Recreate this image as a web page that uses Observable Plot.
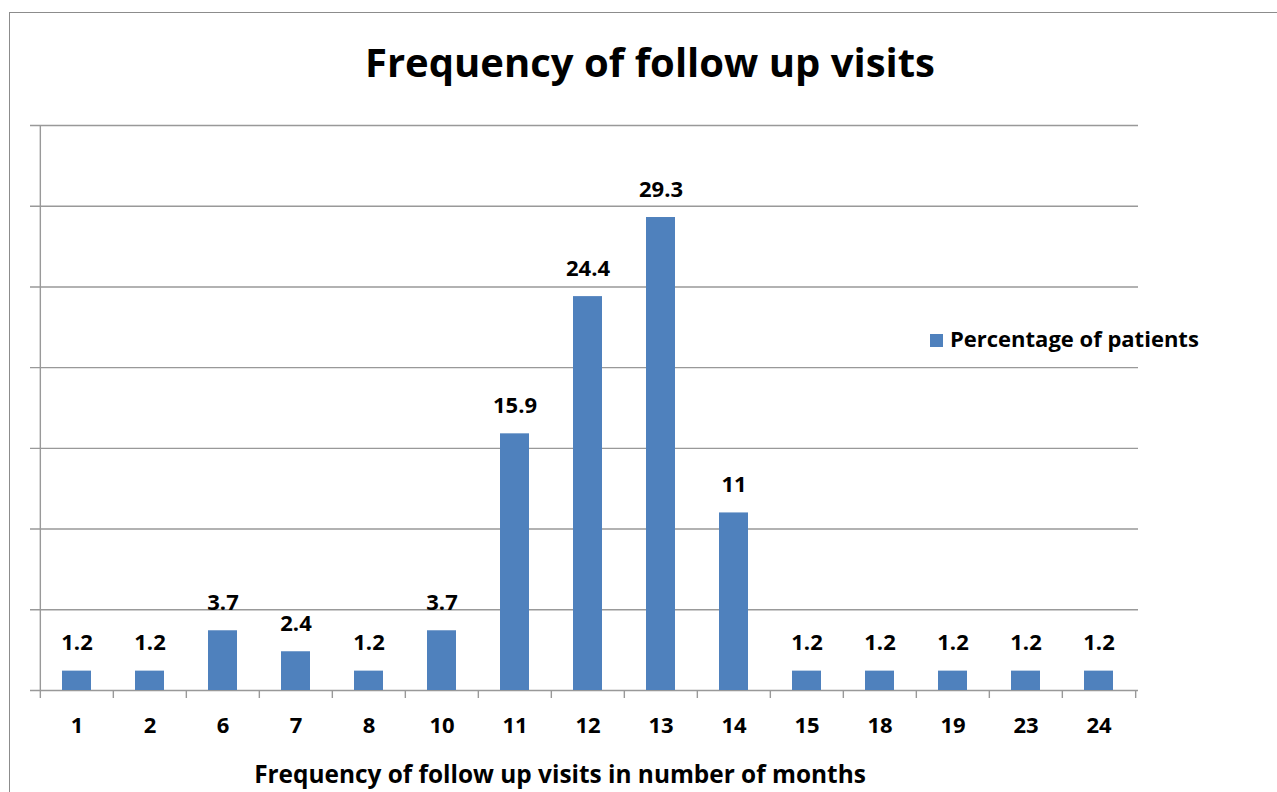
<!DOCTYPE html>
<html><head><meta charset="utf-8">
<script src="https://cdn.jsdelivr.net/npm/d3@7"></script>
<script src="https://cdn.jsdelivr.net/npm/@observablehq/plot@0.6"></script>
<style>
body{margin:0;background:#fff;font-family:"Open Sans",Lato,sans-serif;}
#wrap{position:relative;width:1277px;height:792px;overflow:hidden;}
#border{position:absolute;left:9px;top:12px;width:1400px;height:900px;border-left:1px solid #8c8c8c;border-top:1px solid #8c8c8c;}
#title{position:absolute;left:200px;width:900px;top:36px;text-align:center;font-weight:bold;font-size:40px;line-height:52px;color:#000;}
#xlabel{position:absolute;left:110px;width:900px;top:758px;text-align:center;font-weight:bold;font-size:24.4px;line-height:32px;color:#000;}
#legend{position:absolute;left:930px;top:323px;font-weight:bold;font-size:22px;line-height:30px;color:#000;white-space:nowrap;}
#legend span.sw{display:inline-block;width:13px;height:13px;background:#4F81BD;margin-right:7px;vertical-align:0px;}
#chart{position:absolute;left:0;top:0;}
</style></head>
<body>
<div id="wrap">
  <div id="chart"></div>
  <div id="border"></div>
  <div id="title">Frequency of follow up visits</div>
  <div id="xlabel">Frequency of follow up visits in number of months</div>
  <div id="legend"><span class="sw"></span>Percentage of patients</div>
</div>
<script>
const months = ["1","2","6","7","8","10","11","12","13","14","15","18","19","23","24"];
const percent = [1.2,1.2,3.7,2.4,1.2,3.7,15.9,24.4,29.3,11,1.2,1.2,1.2,1.2,1.2];
const yGrid = [0,5,10,15,20,25,30,35];

const data = months.map((m,i)=>({month:m, pct:percent[i]}));

const W = 1277, H = 792, ML = 38, MR = 139, MT = 125, MB = 102;
const step = (W - ML - MR) / months.length;

const chart = Plot.plot({
  width: W, height: H,
  marginLeft: ML, marginRight: MR, marginTop: MT, marginBottom: MB,
  style: {fontFamily: "'Open Sans', Lato, sans-serif", background: "transparent"},
  x: {domain: months, paddingInner: 0.6, paddingOuter: 0.3},
  y: {domain: [0, 35], axis: null},
  marks: [
    Plot.ruleY(yGrid, {stroke: "#999", strokeWidth: 1.4, insetLeft: -8}),
    Plot.ruleX([months[0]], {dx: -step/2, stroke: "#999", strokeWidth: 1.4, y1: 0, y2: 35}),
    Plot.ruleX(months, {dx: -step/2, y1: 0, y2: 0, insetBottom: -8, stroke: "#999", strokeWidth: 1.4}),
    Plot.ruleX([months[months.length-1]], {dx: step/2, y1: 0, y2: 0, insetBottom: -8, stroke: "#999", strokeWidth: 1.4}),
    Plot.barY(data, {x: "month", y: "pct", fill: "#4F81BD"}),
    Plot.text(data, {x: "month", y: "pct", text: d => String(d.pct), dy: -28, fontSize: 22, fontWeight: "bold", fill: "#000"}),
    Plot.axisX({tickSize: 0, tickPadding: 27, fontSize: 22, fontWeight: "bold", fill: "#000", label: null})
  ]
});
document.getElementById("chart").appendChild(chart);
</script>
</body></html>
